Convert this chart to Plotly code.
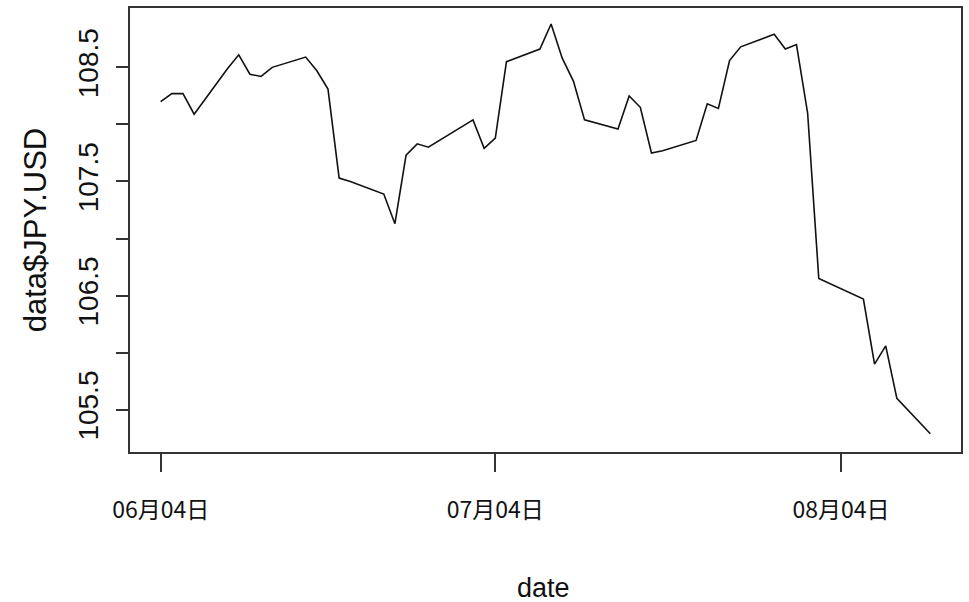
import plotly.graph_objects as go

dates = ["2019-06-04", "2019-06-05", "2019-06-06", "2019-06-07",
         "2019-06-10", "2019-06-11", "2019-06-12", "2019-06-13", "2019-06-14",
         "2019-06-17", "2019-06-18", "2019-06-19", "2019-06-20", "2019-06-21",
         "2019-06-24", "2019-06-25", "2019-06-26", "2019-06-27", "2019-06-28",
         "2019-07-02", "2019-07-03", "2019-07-04", "2019-07-05",
         "2019-07-08", "2019-07-09", "2019-07-10", "2019-07-11", "2019-07-12",
         "2019-07-15", "2019-07-16", "2019-07-17", "2019-07-18", "2019-07-19",
         "2019-07-22", "2019-07-23", "2019-07-24", "2019-07-25", "2019-07-26",
         "2019-07-29", "2019-07-30", "2019-07-31", "2019-08-01", "2019-08-02",
         "2019-08-06", "2019-08-07", "2019-08-08", "2019-08-09",
         "2019-08-12"]

jpy_usd = [108.20, 108.27, 108.27, 108.09,
           108.49, 108.61, 108.44, 108.42, 108.50,
           108.59, 108.47, 108.31, 107.53, 107.50,
           107.39, 107.13, 107.73, 107.83, 107.80,
           108.04, 107.79, 107.88, 108.55,
           108.66, 108.88, 108.58, 108.38, 108.04,
           107.96, 108.25, 108.15, 107.75, 107.77,
           107.86, 108.18, 108.14, 108.56, 108.68,
           108.79, 108.66, 108.70, 108.10, 106.65,
           106.47, 105.90, 106.06, 105.60,
           105.29]

x_tick_vals = ["2019-06-04", "2019-07-04", "2019-08-04"]
x_tick_text = ["06月04日", "07月04日", "08月04日"]
y_tick_vals = [105.5, 106.0, 106.5, 107.0, 107.5, 108.0, 108.5]
y_tick_text = ["105.5", "", "106.5", "", "107.5", "", "108.5"]

fig = go.Figure()
fig.add_trace(go.Scatter(
    x=dates, y=jpy_usd, mode="lines",
    line=dict(color="#111111", width=1.6),
    showlegend=False,
))

axis_common = dict(
    showline=True, linecolor="#333333", linewidth=1.5, mirror=True,
    ticks="outside", tickcolor="#333333", tickwidth=1.5,
    showgrid=False, zeroline=False,
)

fig.update_layout(
    width=969, height=602,
    margin=dict(l=130, r=6, t=7, b=150),
    paper_bgcolor="white", plot_bgcolor="white",
    xaxis=dict(
        **axis_common,
        type="date",
        range=["2019-06-01 06:00", "2019-08-14 18:00"],
        tickvals=x_tick_vals, ticktext=x_tick_text,
        ticklen=18,
        tickfont=dict(family="Liberation Sans Narrow, Noto Sans CJK JP", size=23, color="#111111"),
        ticklabelstandoff=19,
    ),
    yaxis=dict(
        **axis_common,
        range=[105.13, 109.02],
        tickvals=y_tick_vals, ticktext=y_tick_text,
        ticklen=12,
        tickangle=-90,
        tickfont=dict(family="Liberation Sans, Arial", size=28, color="#111111"),
        ticklabelstandoff=7,
    ),
    annotations=[
        dict(text="date", xref="paper", yref="paper", x=0.4975, y=-0.3056,
             xanchor="center", yanchor="middle", showarrow=False,
             font=dict(family="Liberation Sans Narrow, Liberation Sans", size=27, color="#111111")),
        dict(text="data$JPY.USD", xref="paper", yref="paper", x=-0.114, y=0.5,
             xanchor="center", yanchor="middle", showarrow=False, textangle=-90,
             font=dict(family="Liberation Sans, Arial", size=31, color="#111111")),
    ],
)

fig.write_html("out.html",
               config={"displayModeBar": False},
               post_script="document.body.style.margin='0';document.body.style.overflow='hidden';")
